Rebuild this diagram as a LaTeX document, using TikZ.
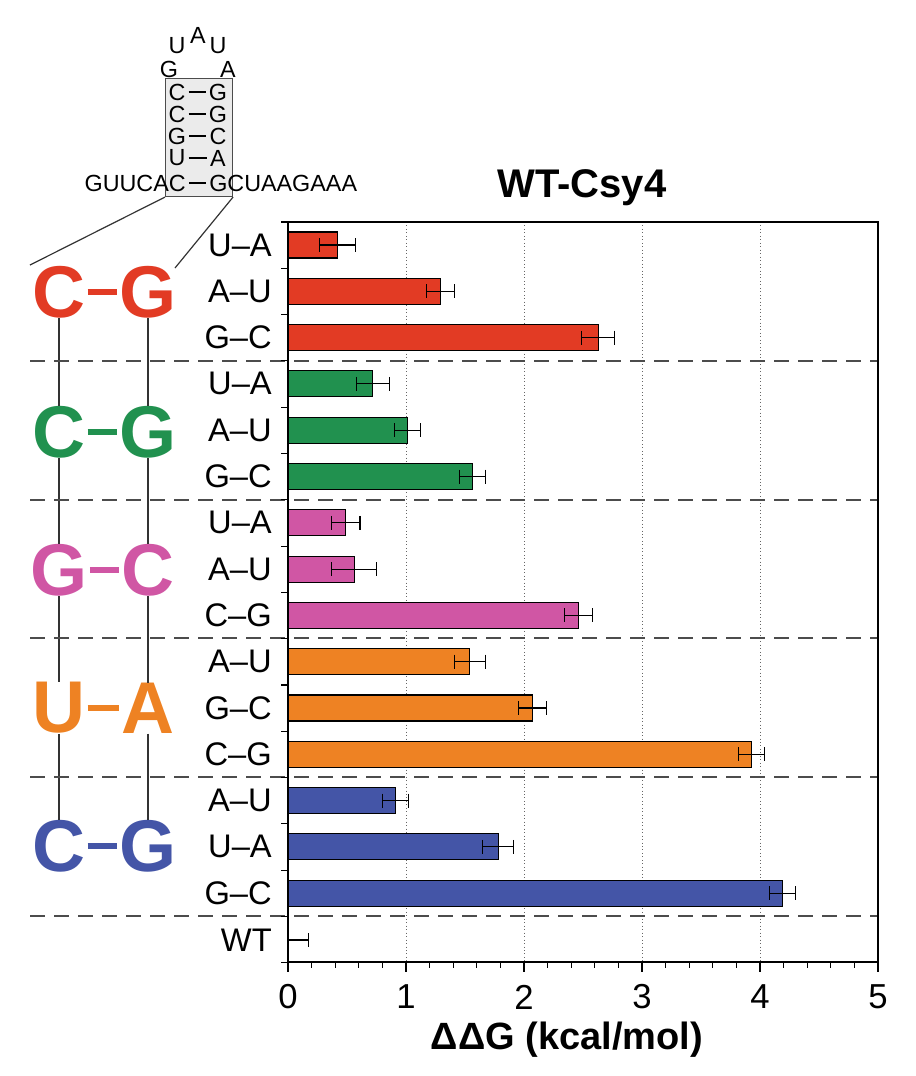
\documentclass[tikz,border=0pt]{standalone}
\usepackage{fontspec}
\setmainfont{Liberation Sans}
\usetikzlibrary{calc}
\definecolor{cR}{HTML}{E23B24}
\definecolor{cGr}{HTML}{21914F}
\definecolor{cP}{HTML}{D056A4}
\definecolor{cO}{HTML}{EE8223}
\definecolor{cB}{HTML}{4455A7}
\begin{document}
\begin{tikzpicture}[x=0.75pt,y=-0.75pt,
  cat/.style={anchor=east,font=\fontsize{24.5}{24.5}\selectfont,inner sep=0},
  big/.style={font=\fontsize{55}{55}\selectfont\bfseries,inner sep=0},
  hp/.style={font=\fontsize{17.5}{17.5}\selectfont,inner sep=0},
  bar/.style={draw=black,line width=0.8pt},
  err/.style={line width=0.8pt}]
\useasboundingbox (0,0) rectangle (916,1076);
% hairpin
\node[draw=black!70,fill=black!8,line width=0.8pt,minimum width=67*0.75pt,minimum height=118*0.75pt,anchor=north west,inner sep=0] (hbox) at (165,78) {};
\node[hp] (u1) at (177,46) {U};
\node[hp] (a1) at (198,35) {A};
\node[hp] (u2) at (218,46) {U};
\node[hp] (g0) at (169,69) {G};
\node[hp] (a0) at (228,69) {A};
\foreach \l/\r/\y [count=\i] in {C/G/92, C/G/114, G/C/136, U/A/158}{
  \node[hp] (hl\i) at (177,\y) {\l};
  \node[hp] (hr\i) at (218,\y) {\r};
  \draw[line width=1pt] ($(hl\i.east)+(3,0)$) -- ($(hr\i.west)+(-3,0)$);
}
\node[hp,anchor=east] (l5) at (186,183) {GUUCAC};
\node[hp,anchor=west] (r5) at (209,183) {GCUAAGAAA};
\draw[line width=1pt] ($(l5.east)+(3,0)$) -- ($(r5.west)+(-3,0)$);
\draw[line width=0.9pt,black!80] (hbox.south west) -- (30,265);
\draw[line width=0.9pt,black!80] (hbox.south east) -- (175,268);
% big letters
\foreach \l/\r/\y/\c [count=\i] in {C/G/292/cR, C/G/432/cGr, G/C/570/cP, U/A/708/cO, C/G/846/cB}{
  \node[big,text=\c] (L\i) at (59,\y) {\l};
  \node[big,text=\c] (R\i) at (148,\y) {\r};
  \draw[\c,line width=5pt] ($(L\i.east)+(2,0)$) -- ($(R\i.west)+(-2,0)$);
}
\foreach \i/\j in {1/2,2/3,3/4,4/5}{
  \draw[line width=0.8pt,black!80] (L\i.south) -- (L\j.north);
  \draw[line width=0.8pt,black!80] (R\i.south) -- (R\j.north);
}
% grid
\foreach \v in {1,2,3,4}{\draw[black!60,dotted,line width=0.6pt] ({288+118*\v},222) -- ({288+118*\v},962);}
% dashed separators
\foreach \y in {361,500,638,777,916}{\draw[black!70,dash pattern=on 11pt off 7pt,line width=0.9pt] (30,\y) -- (878,\y);}
% bars
\foreach \lab/\val/\e/\c [count=\i] in {
 U–A/0.42/0.15/cR, A–U/1.29/0.12/cR, G–C/2.63/0.14/cR,
 U–A/0.72/0.14/cGr, A–U/1.01/0.11/cGr, G–C/1.56/0.11/cGr,
 U–A/0.49/0.12/cP, A–U/0.56/0.19/cP, C–G/2.46/0.12/cP,
 A–U/1.54/0.13/cO, G–C/2.07/0.12/cO, C–G/3.93/0.11/cO,
 A–U/0.91/0.11/cB, U–A/1.78/0.13/cB, G–C/4.19/0.11/cB}{
  \pgfmathsetmacro{\yc}{245+46.3*(\i-1)}
  \pgfmathsetmacro{\xe}{288+118*\val}
  \pgfmathsetmacro{\xa}{288+118*(\val-\e)}
  \pgfmathsetmacro{\xb}{288+118*(\val+\e)}
  \node[cat] (c\i) at (272,\yc) {\lab};
  \draw[bar,fill=\c] (288,\yc-13) rectangle (\xe,\yc+13);
  \draw[err] (\xa,\yc) -- (\xb,\yc);
  \draw[err] (\xa,\yc-7) -- (\xa,\yc+7);
  \draw[err] (\xb,\yc-7) -- (\xb,\yc+7);
}
\node[cat] (cwt) at (272,940) {WT};
\draw[err] (288,940) -- ({288+118*0.17},940);
\draw[err] ({288+118*0.17},933) -- ({288+118*0.17},947);
% y ticks
\foreach \k in {0,...,16}{\draw[line width=0.8pt] (281,{222+46.3*\k}) -- (288,{222+46.3*\k});}
% axes frame
\draw[line width=1pt] (288,222) rectangle (878,962);
% x ticks
\foreach \k in {0,...,25}{\draw[line width=0.8pt] ({288+23.6*\k},962) -- ({288+23.6*\k},968);}
\foreach \v in {0,...,5}{\draw[line width=1pt] ({288+118*\v},962) -- ({288+118*\v},972);
  \node[font=\fontsize{26}{26}\selectfont,inner sep=0] (t\v) at ({288+118*\v},997) {\v};}
\node[font=\fontsize{28.5}{28.5}\selectfont\bfseries,inner sep=0] (xl) at (567,1040) {ΔΔG (kcal/mol)};
\node[font=\fontsize{30}{30}\selectfont\bfseries,inner sep=0] (title) at (582,188) {WT-Csy4};
\end{tikzpicture}
\end{document}
